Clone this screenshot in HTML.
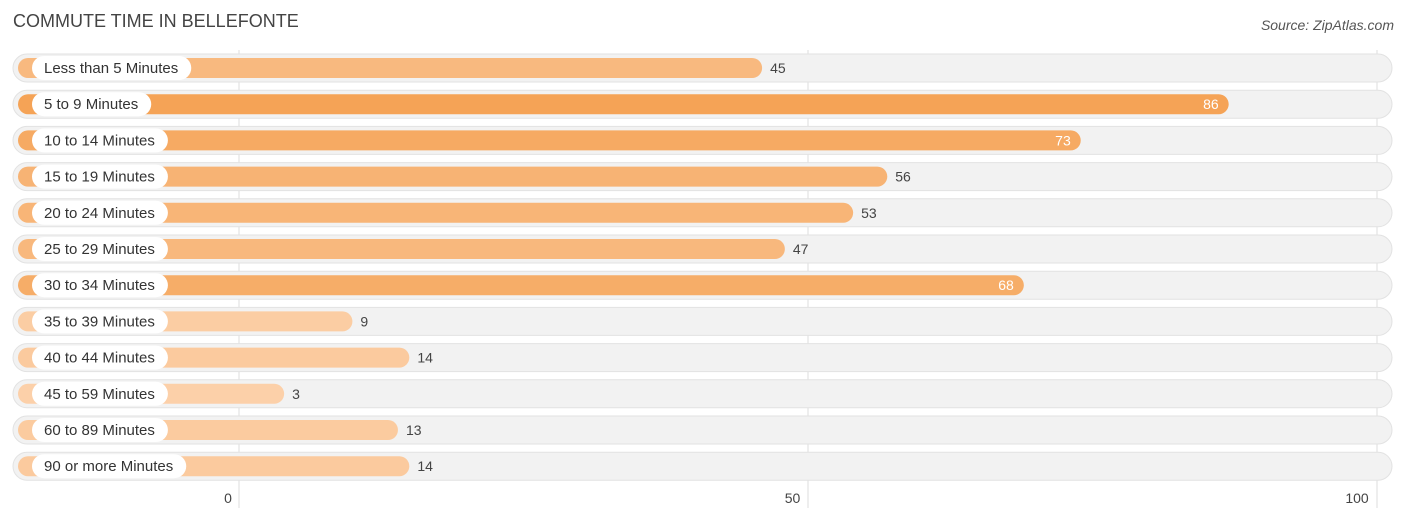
<!DOCTYPE html>
<html><head><meta charset="utf-8"><style>
body{margin:0;background:#fff;width:1406px;height:522px;overflow:hidden;font-family:"Liberation Sans",sans-serif}
</style></head><body>
<svg id="c" width="1406" height="522" xmlns="http://www.w3.org/2000/svg">
<text x="13" y="27" font-size="18" fill="#444">COMMUTE TIME IN BELLEFONTE</text>
<text x="1394" y="30" font-size="14" fill="#555" font-style="italic" text-anchor="end">Source: ZipAtlas.com</text>
<g id="grid"></g><g id="rows"></g><g id="ticks"></g>
</svg>
<script>
const categories=["Less than 5 Minutes","5 to 9 Minutes","10 to 14 Minutes","15 to 19 Minutes","20 to 24 Minutes","25 to 29 Minutes","30 to 34 Minutes","35 to 39 Minutes","40 to 44 Minutes","45 to 59 Minutes","60 to 89 Minutes","90 or more Minutes"];
const values=[45,86,73,56,53,47,68,9,14,3,13,14];
const tickValues=[0,50,100];
const NS="http://www.w3.org/2000/svg";
const x0=239,pxPer=11.38;
function xs(v){return x0+v*pxPer;}
function ys(i){return 68+i*36.2;}
const maxV=Math.max(...values);
function mk(t,a,p){const e=document.createElementNS(NS,t);for(const k in a)e.setAttribute(k,a[k]);p.appendChild(e);return e;}
const grid=document.getElementById('grid'),rows=document.getElementById('rows'),ticks=document.getElementById('ticks');
tickValues.forEach(t=>{
 const l=mk('line',{x1:xs(t),x2:xs(t),y1:50,y2:508,stroke:'#ddd','stroke-width':1},grid);
 
 
 const tx=mk('text',{x:xs(t)-11-t*0.09,y:503,'font-size':14,fill:'#444','text-anchor':'middle'},ticks);
 tx.textContent=t;
 
 
});
function mix(a,b,f){return 'rgb('+a.map((c,i)=>Math.round(c+(b[i]-c)*f)).join(',')+')';}
categories.forEach((c,i)=>{
 const y=ys(i),v=values[i];
 const g=mk('g',{},rows);
 
 
 const bg=mk('rect',{x:13,y:y-14,width:1379,height:28,rx:14,fill:'#f2f2f2',stroke:'#e2e2e2'},g);
 
 
 const f=v/maxV;
 const bar=mk('rect',{x:18,y:y-10,width:xs(v)+11-18,height:20,rx:10,fill:mix([252,210,172],[245,163,86],f)},g);
 
 
 const pill=mk('rect',{x:32,y:y-12,width:150,height:24,rx:12,fill:'#fff'},g);
 
 
 const lt=mk('text',{x:44,y:y+5,'font-size':15,fill:'#333'},g);
 lt.textContent=c;
 
 
 pill.setAttribute('width',lt.getComputedTextLength()+25);
 const inside=v>60;
 const vt=mk('text',{x:inside?xs(v)+11-10:xs(v)+11+8,y:y+5,'font-size':14,fill:inside?'#fff':'#444','text-anchor':inside?'end':'start'},g);
 vt.textContent=v;
 
 
});
</script>
</body></html>
